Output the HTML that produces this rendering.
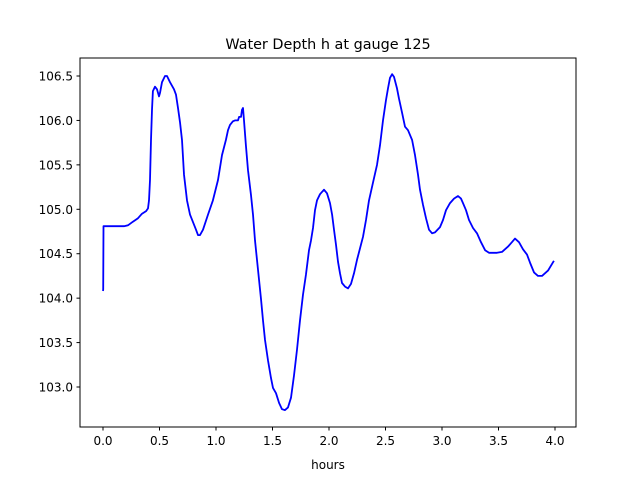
<!DOCTYPE html>
<html><head><meta charset="utf-8"><style>
body{margin:0;background:#fff;}
svg{display:block;font-family:"DejaVu Sans","Liberation Sans",sans-serif;}
</style></head><body>
<svg id="chart" width="640" height="480">
<rect width="640" height="480" fill="#fff"/>
<text x="328" y="49" font-size="14.4" text-anchor="middle">Water Depth h at gauge 125</text>
<text x="328" y="469" font-size="12" text-anchor="middle">hours</text>
<g id="ticks"></g>
<path id="line" fill="none" stroke="#0000ff" stroke-width="1.8" stroke-linejoin="round"/>
<rect x="80" y="58" width="496" height="369" fill="none" stroke="#000" stroke-width="1"/>
</svg>
<script>
const hours=[0,0.002,0.004,0.062,0.186,0.221,0.265,0.310,0.345,0.381,0.398,0.407,0.416,0.425,0.434,0.442,0.460,0.478,0.496,0.504,0.522,0.549,0.566,0.593,0.628,0.646,0.664,0.681,0.699,0.717,0.743,0.770,0.823,0.841,0.858,0.885,0.929,0.973,1.018,1.053,1.088,1.106,1.124,1.150,1.168,1.195,1.204,1.221,1.230,1.239,1.248,1.265,1.283,1.310,1.327,1.345,1.372,1.398,1.416,1.434,1.460,1.487,1.504,1.531,1.558,1.584,1.611,1.637,1.664,1.690,1.717,1.743,1.770,1.796,1.823,1.841,1.858,1.876,1.894,1.920,1.956,1.982,2.009,2.027,2.044,2.062,2.080,2.097,2.115,2.142,2.168,2.195,2.221,2.248,2.274,2.301,2.327,2.354,2.389,2.425,2.451,2.478,2.504,2.522,2.540,2.558,2.575,2.602,2.619,2.646,2.673,2.699,2.735,2.761,2.788,2.805,2.832,2.858,2.885,2.912,2.938,2.982,3.009,3.035,3.071,3.106,3.142,3.168,3.186,3.212,3.239,3.274,3.310,3.345,3.381,3.416,3.451,3.487,3.531,3.584,3.619,3.646,3.681,3.717,3.752,3.779,3.814,3.850,3.885,3.938,3.99];
const depth=[104.08,104.1,104.81,104.81,104.81,104.82,104.86,104.90,104.95,104.98,105.01,105.10,105.33,105.78,106.12,106.33,106.38,106.35,106.27,106.31,106.43,106.5,106.5,106.43,106.35,106.29,106.14,105.98,105.78,105.39,105.10,104.94,104.77,104.71,104.71,104.77,104.94,105.10,105.33,105.61,105.78,105.89,105.95,105.99,106.00,106.00,106.04,106.04,106.12,106.14,106.00,105.72,105.44,105.16,104.94,104.65,104.32,103.99,103.75,103.53,103.30,103.10,102.99,102.93,102.82,102.75,102.74,102.77,102.88,103.13,103.42,103.75,104.04,104.26,104.54,104.65,104.79,104.99,105.10,105.17,105.22,105.18,105.07,104.94,104.77,104.60,104.41,104.28,104.17,104.13,104.11,104.16,104.28,104.43,104.56,104.69,104.88,105.10,105.30,105.50,105.72,106.00,106.23,106.36,106.48,106.52,106.49,106.36,106.25,106.09,105.93,105.89,105.78,105.61,105.39,105.22,105.05,104.90,104.77,104.73,104.74,104.80,104.88,104.99,105.07,105.12,105.15,105.12,105.07,104.99,104.88,104.79,104.73,104.63,104.54,104.51,104.51,104.51,104.52,104.58,104.63,104.67,104.63,104.55,104.49,104.40,104.29,104.25,104.25,104.31,104.42,104.54];
const xTicks=[0,0.5,1,1.5,2,2.5,3,3.5,4];
const xTickLabels=["0.0","0.5","1.0","1.5","2.0","2.5","3.0","3.5","4.0"];
const yTicks=[103,103.5,104,104.5,105,105.5,106,106.5];
const yTickLabels=["103.0","103.5","104.0","104.5","105.0","105.5","106.0","106.5"];
const X=h=>103+h*113;
const Y=v=>76+(106.5-v)*88.86;
const NS="http://www.w3.org/2000/svg";
const g=document.getElementById('ticks');
xTicks.forEach((t,i)=>{
  const l=document.createElementNS(NS,'line');
  l.setAttribute('x1',X(t));l.setAttribute('x2',X(t));l.setAttribute('y1',427);l.setAttribute('y2',430.5);l.setAttribute('stroke','#000');
  
  
  g.appendChild(l);
  const tx=document.createElementNS(NS,'text');
  tx.setAttribute('x',X(t));tx.setAttribute('y',445);tx.setAttribute('font-size','12');tx.setAttribute('text-anchor','middle');
  tx.textContent=xTickLabels[i];
  
  
  g.appendChild(tx);
});
yTicks.forEach((t,i)=>{
  const l=document.createElementNS(NS,'line');
  l.setAttribute('x1',76.5);l.setAttribute('x2',80);l.setAttribute('y1',Y(t));l.setAttribute('y2',Y(t));l.setAttribute('stroke','#000');
  
  
  g.appendChild(l);
  const tx=document.createElementNS(NS,'text');
  tx.setAttribute('x',73);tx.setAttribute('y',Y(t)+4.5);tx.setAttribute('font-size','12');tx.setAttribute('text-anchor','end');
  tx.textContent=yTickLabels[i];
  
  
  g.appendChild(tx);
});
document.getElementById('line').setAttribute('d',hours.map((h,i)=>(i?'L':'M')+X(h).toFixed(1)+','+Y(depth[i]).toFixed(1)).join(''));
</script>
</body></html>
